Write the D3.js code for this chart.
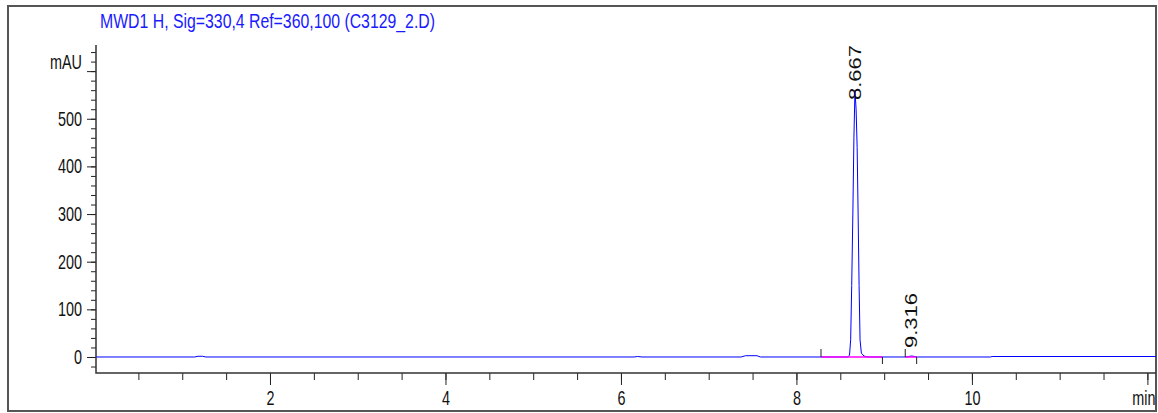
<!DOCTYPE html>
<html>
<head>
<meta charset="utf-8">
<script src="https://cdn.jsdelivr.net/npm/d3@7"></script>
<style>
  body { margin: 0; background: #fff; }
  text { font-family: "Liberation Sans", Arial, sans-serif; }
</style>
</head>
<body>
<div id="chart"></div>
<script>
// chromatogram
var title = "MWD1 H, Sig=330,4 Ref=360,100 (C3129_2.D)";

var traceMin = [0.02, 1.14, 1.18, 1.23, 1.27, 6.15, 6.19, 6.24, 7.37, 7.42, 7.55, 7.59,
  8.585, 8.605, 8.618, 8.63, 8.643, 8.655, 8.667, 8.68, 8.692, 8.703, 8.714, 8.725, 8.74, 8.77, 8.80, 8.84,
  9.26, 9.29, 9.316, 9.34, 9.38, 10.21, 10.23, 12.1];
var traceMAU = [0, 0, 1.5, 1.5, 0, 0, 1, 0, 0, 2.7, 2.7, 0,
  0, 4, 36, 150, 300, 460, 560, 520, 440, 300, 150, 36, 8, 2, 0.5, 0,
  0, 1.5, 2, 1.2, 0, 0, 1, 1];

var peakTimes = [8.667, 9.316];
var peakApex = [560, 2];
var peakLabels = ["8.667", "9.316"];

var baseStart = [8.28, 9.24];
var baseEnd = [8.98, 9.37];

var xLabelTicks = [2, 4, 6, 8, 10, 12];
var xLabelText = ["2", "4", "6", "8", "10", "min"];
var yLabelTicks = [0, 100, 200, 300, 400, 500, 600];
var yLabelText = ["0", "100", "200", "300", "400", "500", ""];

function run() {
  var width = 1158,
      height = 413,
      pL = 96, pR = 1156, pT = 45, pB = 373,
      squeeze = 0.72; // text in the picture is narrowed

  var x = d3.scaleLinear().domain([0.017, 12.098]).range([pL, pR]);
  var y = d3.scaleLinear().domain([-33.6, 654.8]).range([pB, pT]);

  var svg = d3.select("#chart")
    .append("svg")
      .attr("width", width)
      .attr("height", height);

  // outer frame
  svg.append("rect")
    .attr("x", 8).attr("y", 6)
    .attr("width", 1148).attr("height", 405)
    .attr("fill", "none")
    .attr("stroke", "#555")
    .attr("stroke-width", 2);

  svg.append("text")
    .attr("x", 100).attr("y", 28)
    .attr("font-size", 20)
    .attr("fill", "#1a1aff")
    .attr("textLength", 335)
    .attr("lengthAdjust", "spacingAndGlyphs")
    .text(title);

  // y axis
  var yMinor = d3.axisLeft(y).tickValues(d3.range(-20, 641, 20)).tickSize(5).tickFormat("");
  svg.append("g")
    .attr("transform", "translate(" + pL + ",0)")
    .call(yMinor)
    .call(function(g) { g.select(".domain").remove(); });

  var yMajor = d3.axisLeft(y).tickValues(yLabelTicks).tickSize(9)
    .tickFormat(function(d, i) { return yLabelText[i]; });
  svg.append("g")
    .attr("transform", "translate(" + pL + ",0)")
    .call(yMajor)
    .call(function(g) { g.select(".domain").remove(); })
    .attr("font-size", 20)
    .attr("font-family", null)
    .selectAll("text")
      .attr("x", -14 / squeeze)
      .attr("transform", "scale(" + squeeze + ",1)")
      .attr("fill", "#111");

  svg.append("text")
    .attr("transform", "translate(82," + y(620) + ") scale(" + squeeze + ",1)")
    .attr("dy", "0.35em")
    .attr("text-anchor", "end")
    .attr("font-size", 20)
    .attr("fill", "#111")
    .text("mAU");

  // x axis
  var xMinor = d3.axisBottom(x).tickValues(d3.range(0.5, 12.01, 0.5)).tickSize(7).tickFormat("");
  svg.append("g")
    .attr("transform", "translate(0," + pB + ")")
    .call(xMinor)
    .call(function(g) { g.select(".domain").remove(); });

  var xMajor = d3.axisBottom(x).tickValues(xLabelTicks).tickSize(12).tickPadding(6)
    .tickFormat(function(d, i) { return xLabelText[i]; });
  svg.append("g")
    .attr("transform", "translate(0," + pB + ")")
    .call(xMajor)
    .call(function(g) { g.select(".domain").remove(); })
    .attr("font-size", 20)
    .attr("font-family", null)
    .selectAll("text")
      .attr("transform", "scale(" + squeeze + ",1)")
      .attr("dx", function(d) { return d === 12 ? -4 / squeeze : 0; })
      .attr("fill", "#111");

  svg.selectAll(".tick line").attr("stroke", "#222");

  // axis lines
  svg.append("path")
    .attr("d", "M" + pL + "," + pT + "V" + pB + "H" + pR)
    .attr("fill", "none")
    .attr("stroke", "#333")
    .attr("stroke-width", 1.5);

  // signal
  svg.append("clipPath").attr("id", "plot")
    .append("rect")
      .attr("x", pL).attr("y", pT)
      .attr("width", pR - pL).attr("height", pB - pT);

  var line = d3.line()
    .x(function(d, i) { return x(traceMin[i]); })
    .y(function(d) { return y(d); });

  svg.append("path")
    .attr("clip-path", "url(#plot)")
    .attr("d", line(traceMAU))
    .attr("fill", "none")
    .attr("stroke", "#0000ff")
    .attr("stroke-width", 1);

  // integration baselines and markers
  for (var k = 0; k < baseStart.length; k++) {
    svg.append("line")
      .attr("x1", x(baseStart[k])).attr("x2", x(baseEnd[k]))
      .attr("y1", y(0)).attr("y2", y(0))
      .attr("stroke", "#ff00ff")
      .attr("stroke-width", 1.5);
    svg.append("line")
      .attr("x1", x(baseStart[k])).attr("x2", x(baseStart[k]))
      .attr("y1", y(0)).attr("y2", y(0) - 8)
      .attr("stroke", "#222");
    svg.append("line")
      .attr("x1", x(baseEnd[k])).attr("x2", x(baseEnd[k]))
      .attr("y1", y(0)).attr("y2", y(0) + 7)
      .attr("stroke", "#222");
  }

  // peak labels, pushed down if they would leave the plot
  svg.selectAll(".peak")
      .data(peakLabels)
    .enter().append("text")
      .attr("class", "peak")
      .attr("transform", function(d, i) {
        var sy = Math.max(y(peakApex[i]) - 8, pT + 55);
        return "translate(" + x(peakTimes[i]) + "," + sy + ") scale(" + squeeze + ",1) rotate(-90)";
      })
      .attr("dy", "0.35em")
      .attr("font-size", 22)
      .attr("fill", "#111")
      .text(function(d) { return d; });
}

run();
</script>
</body>
</html>
